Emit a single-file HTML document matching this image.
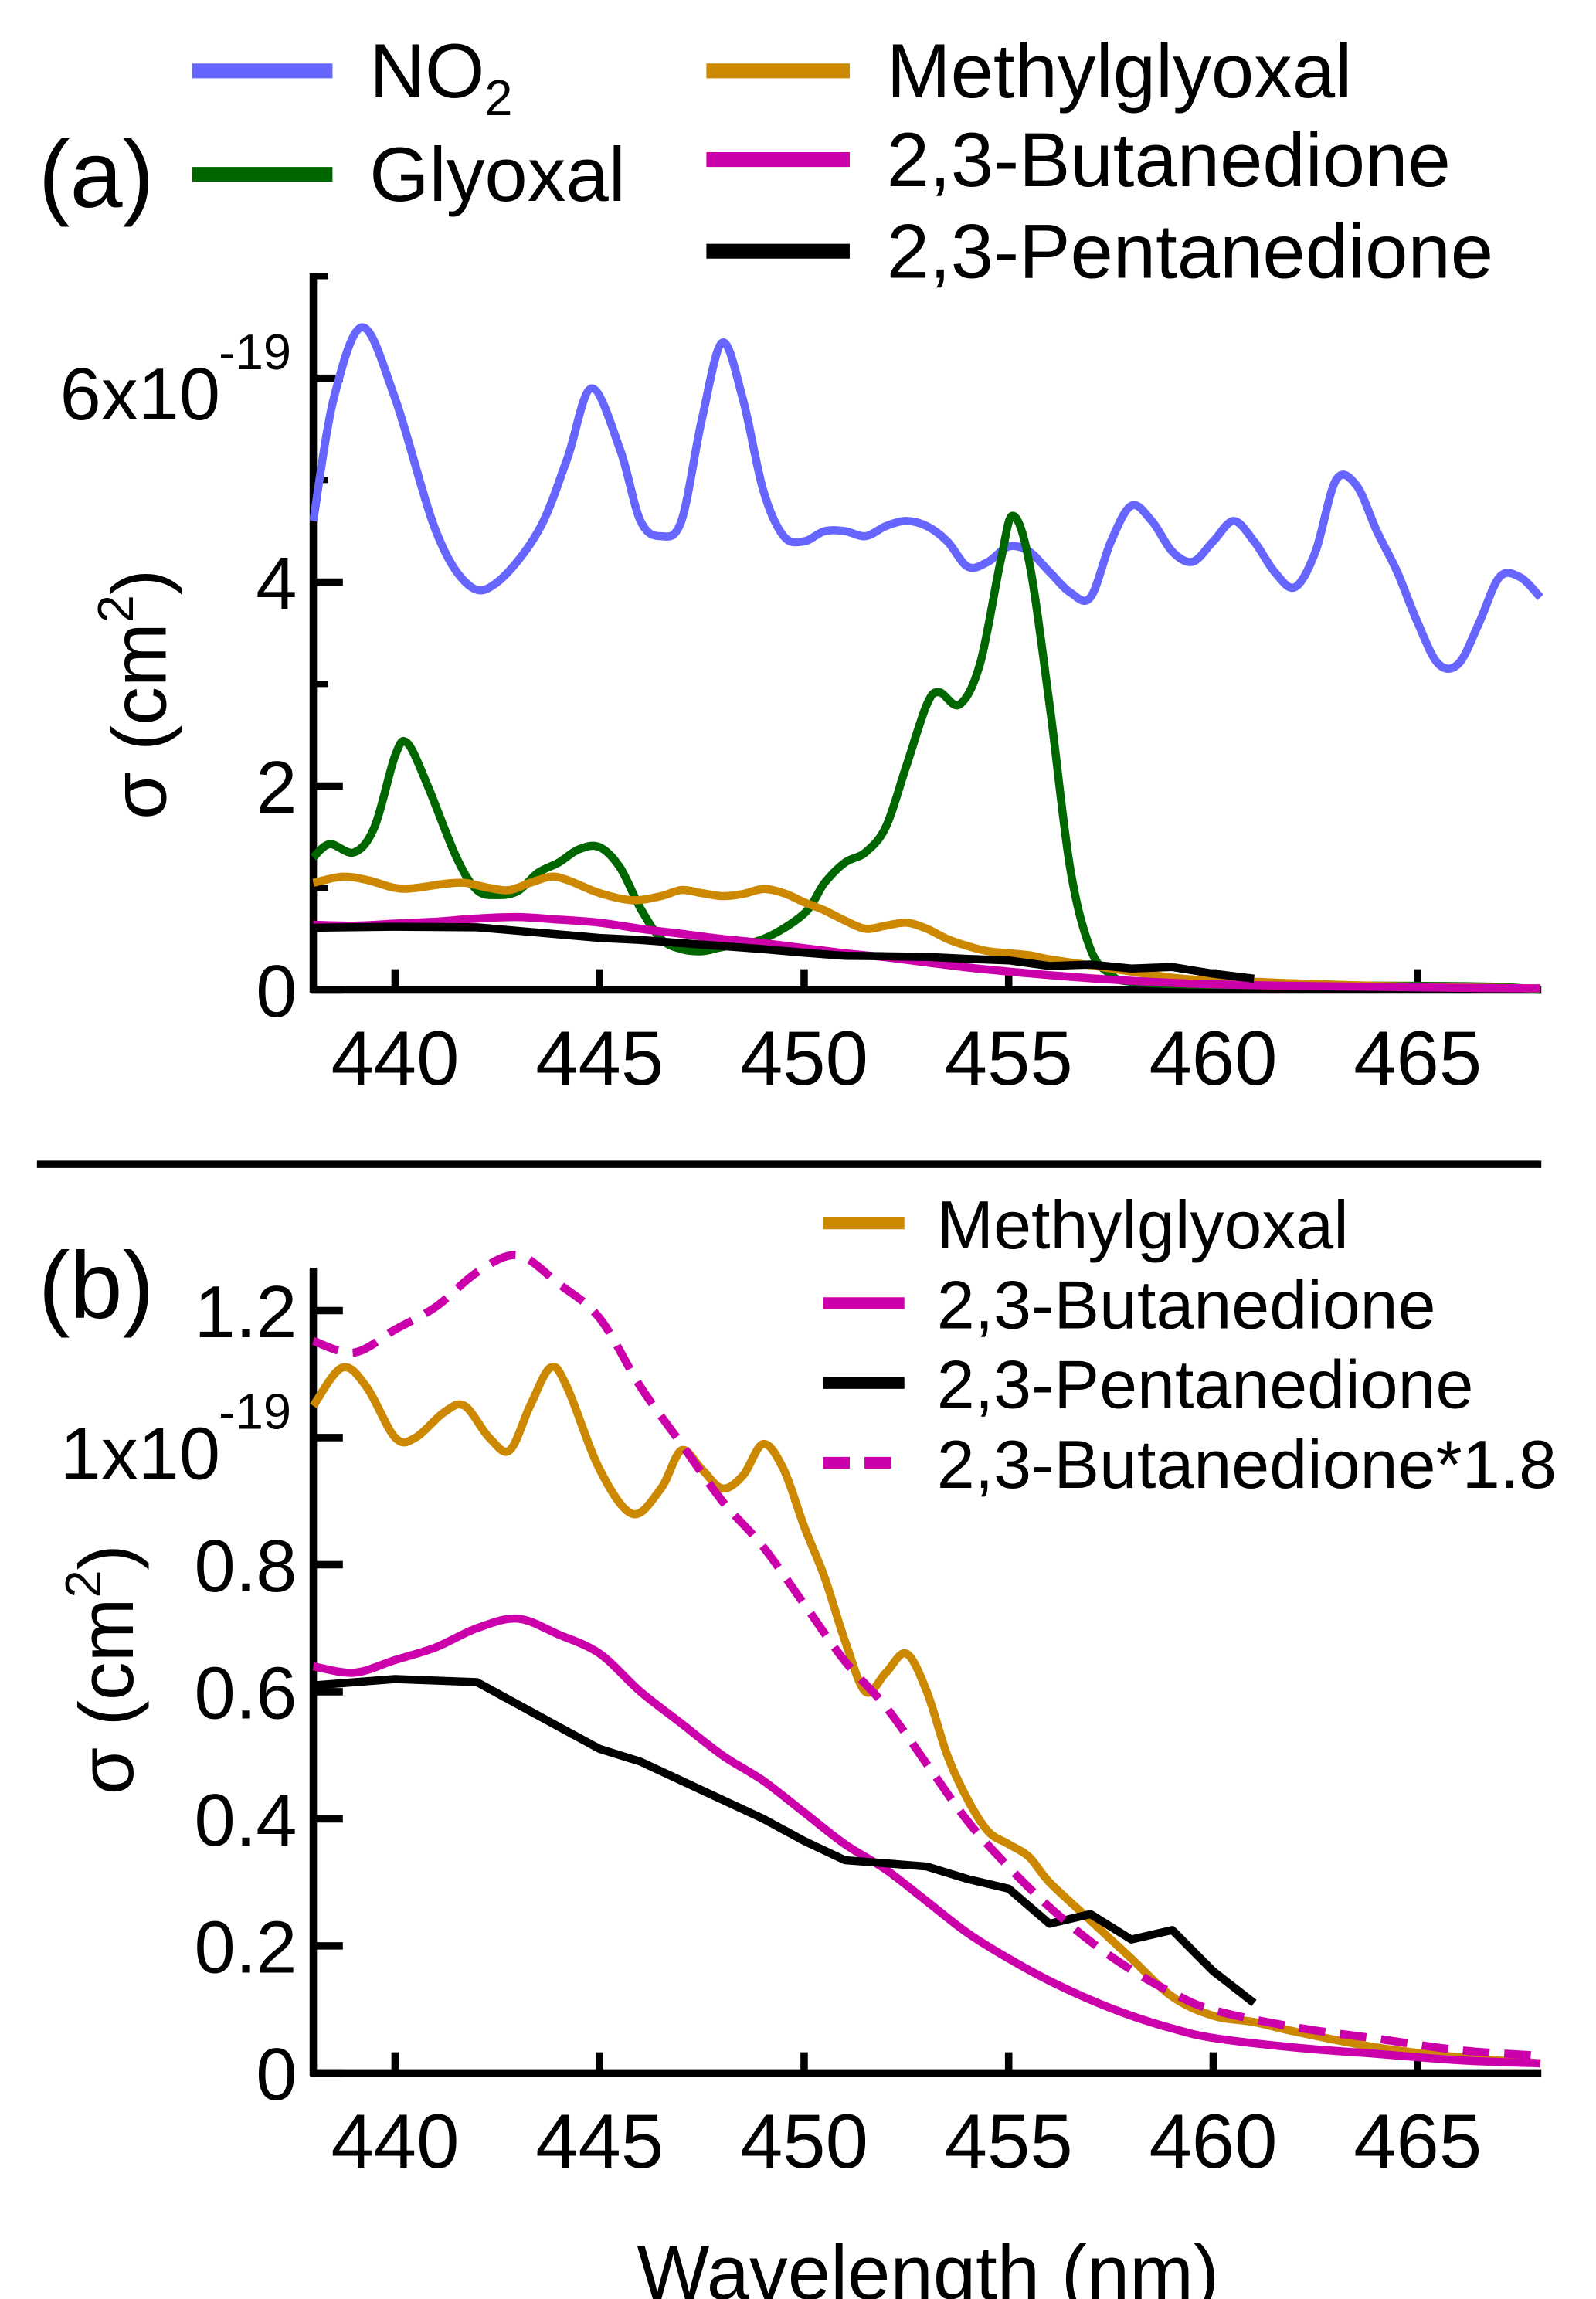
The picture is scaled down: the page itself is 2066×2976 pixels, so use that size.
<!DOCTYPE html>
<html><head><meta charset="utf-8"><style>
html,body{margin:0;padding:0;background:#fff}
svg{display:block}
text{font-family:"Liberation Sans",sans-serif;fill:#000}
</style></head><body>
<svg id="fig" width="2066" height="2976" viewBox="0 0 1080 1556" preserveAspectRatio="none" xmlns="http://www.w3.org/2000/svg">
<g id="pa"></g>
<g id="pb"></g>
<line x1="25" y1="788" x2="1043" y2="788" stroke="#000" stroke-width="5"/>
<text x="26" y="140" font-size="64">(a)</text>
<text x="26" y="892" font-size="64">(b)</text>
<text x="628" y="1556" font-size="52" text-anchor="middle">Wavelength (nm)</text>
<g>
<line x1="130" y1="48" x2="225" y2="48" stroke="#6666ff" stroke-width="10"/><text x="250" y="66" font-size="52">NO<tspan font-size="34" dy="12">2</tspan></text>
<line x1="130" y1="118" x2="225" y2="118" stroke="#006600" stroke-width="10"/><text x="250" y="136" font-size="52">Glyoxal</text>
<line x1="478" y1="48" x2="575" y2="48" stroke="#cc8800" stroke-width="10"/><text x="600" y="66" font-size="52">Methylglyoxal</text>
<line x1="478" y1="108" x2="575" y2="108" stroke="#cc00aa" stroke-width="10"/><text x="600" y="126" font-size="52">2,3-Butanedione</text>
<line x1="478" y1="170" x2="575" y2="170" stroke="#000" stroke-width="10"/><text x="600" y="188" font-size="52">2,3-Pentanedione</text>
</g>
<g>
<line x1="557" y1="828" x2="612" y2="828" stroke="#cc8800" stroke-width="8"/><text x="634" y="845" font-size="46">Methylglyoxal</text>
<line x1="557" y1="882" x2="612" y2="882" stroke="#cc00aa" stroke-width="8"/><text x="634" y="899" font-size="46">2,3-Butanedione</text>
<line x1="557" y1="936" x2="612" y2="936" stroke="#000" stroke-width="8"/><text x="634" y="953" font-size="46">2,3-Pentanedione</text>
<line x1="557" y1="990" x2="612" y2="990" stroke="#cc00aa" stroke-width="8" stroke-dasharray="18,10"/><text x="634" y="1007" font-size="46">2,3-Butanedione*1.8</text>
</g>
</svg>
<script>
const no2W=[438,438.5,439.2,440,441,441.8,442.5,443.5,444.2,444.8,445.5,446,446.5,447,447.5,448,448.5,449,449.5,450,450.5,451,451.5,452,452.5,453,453.5,454,454.5,455,455.5,456,456.5,457,457.5,458,458.5,459,459.5,460,460.5,461,461.5,462,462.5,463,463.5,464,464.5,465,465.5,466,466.5,467,467.5,468];
const no2V=[4.6,5.8,6.5,5.8,4.5,3.97,4.0,4.5,5.2,5.9,5.3,4.6,4.45,4.6,5.6,6.35,5.8,4.9,4.45,4.4,4.5,4.5,4.45,4.55,4.6,4.55,4.4,4.15,4.2,4.35,4.3,4.1,3.9,3.85,4.4,4.75,4.6,4.3,4.2,4.4,4.6,4.4,4.1,3.95,4.3,5.0,4.95,4.5,4.1,3.6,3.2,3.2,3.6,4.05,4.05,3.85];
const glyW=[438,438.4,439,439.5,440,440.3,440.8,441.5,442,442.5,443,443.5,444,444.5,445,445.5,446,446.5,447,447.5,448,449,450,450.5,451,451.5,452,452.5,453,453.3,453.8,454.3,454.8,455.1,455.5,456,456.5,457,457.5,458,460,465,467,468];
const glyV=[1.3,1.43,1.35,1.6,2.3,2.42,2.0,1.3,0.98,0.93,0.97,1.15,1.25,1.38,1.4,1.2,0.8,0.5,0.4,0.38,0.42,0.5,0.75,1.05,1.25,1.35,1.6,2.2,2.8,2.92,2.8,3.2,4.2,4.65,4.2,2.8,1.2,0.4,0.15,0.08,0.05,0.04,0.03,0.0];
const mgW=[438,438.7,439.3,440,440.5,441.2,441.7,442.3,442.8,443.3,443.8,444.2,445,445.8,446.5,447,447.5,448,448.5,449,449.5,450,450.5,451,451.5,452,452.5,453,453.5,454,454.5,455,455.5,456,457,458,459,460,461,462,464,466,468];
const mgV=[1.05,1.11,1.08,1.0,1.0,1.04,1.05,1.0,0.98,1.05,1.11,1.08,0.95,0.88,0.92,0.98,0.95,0.92,0.94,0.99,0.95,0.86,0.78,0.68,0.6,0.63,0.66,0.6,0.5,0.43,0.38,0.36,0.34,0.3,0.24,0.18,0.12,0.09,0.08,0.065,0.04,0.025,0.015];
const buW=[438,439,440,441,442,443,444,445,446,447,448,449,450,451,452,453,454,455,456,457,458,459,460,462,464,466,468];
const buV=[0.64,0.63,0.65,0.67,0.7,0.715,0.69,0.66,0.6,0.55,0.5,0.46,0.41,0.36,0.32,0.27,0.22,0.18,0.145,0.115,0.09,0.07,0.055,0.04,0.03,0.02,0.015];
const buScale=1.8;
const peW=[438,440,442,443,444,445,446,447,448,449,450,451,452,453,454,455,456,457,458,459,460,461];
const peV=[0.61,0.62,0.615,0.58,0.545,0.51,0.49,0.46,0.43,0.4,0.365,0.335,0.33,0.325,0.305,0.29,0.235,0.25,0.21,0.225,0.16,0.11];
const xTicks=[440,445,450,455,460,465];
const aYTicks=[0,2,4,6];
const aYLabels=["0","2","4","6x10"];
const bYTicks=[0,0.2,0.4,0.6,0.8,1.0,1.2];
const bYLabels=["0","0.2","0.4","0.6","0.8","1x10","1.2"];

const NS="http://www.w3.org/2000/svg";
const X=w=>212+(w-438)*27.68;
const yA=v=>670-v*69;
const yB=v=>1403-v*430;
function mk(tag,attrs,parent){const e=document.createElementNS(NS,tag);for(const k in attrs)e.setAttribute(k,attrs[k]);parent.appendChild(e);return e;}
function smoothPath(P,smooth){
  if(!smooth) return P.map((p,i)=>(i?'L':'M')+p[0].toFixed(1)+','+p[1].toFixed(1)).join(' ');
  let d='M'+P[0][0].toFixed(1)+','+P[0][1].toFixed(1);
  for(let i=0;i<P.length-1;i++){
    const p0=P[i-1]||P[i],p1=P[i],p2=P[i+1],p3=P[i+2]||p2;
    const c1=[p1[0]+(p2[0]-p0[0])/6,p1[1]+(p2[1]-p0[1])/6];
    const c2=[p2[0]-(p3[0]-p1[0])/6,p2[1]-(p3[1]-p1[1])/6];
    d+=` C${c1[0].toFixed(1)},${c1[1].toFixed(1)} ${c2[0].toFixed(1)},${c2[1].toFixed(1)} ${p2[0].toFixed(1)},${p2[1].toFixed(1)}`;
  }
  return d;
}
function series(g,W,V,Y,color,name,dash,mult,smooth){
  const P=W.map((w,i)=>[X(w),Y(V[i]*(mult||1))]);
  const p=mk('path',{d:smoothPath(P,smooth!==false),fill:'none',stroke:color,'stroke-width':5.5,'stroke-linejoin':'round'},g);
  if(dash)p.setAttribute('stroke-dasharray',dash);
  
  
}
function axes(g,Y,yTop,yBot,ticks,labels,minor,titleX,titleY,supIdx,supText){
  mk('line',{x1:212,y1:yTop,x2:212,y2:yBot+2,stroke:'#000','stroke-width':5},g);
  mk('line',{x1:210,y1:yBot,x2:1043,y2:yBot,stroke:'#000','stroke-width':5},g);
  xTicks.forEach(t=>{
    mk('line',{x1:X(t),y1:yBot,x2:X(t),y2:yBot-14,stroke:'#000','stroke-width':5},g);
    const tx=mk('text',{x:X(t),y:yBot+64,'font-size':52,'text-anchor':'middle'},g);tx.textContent=t;
    
    
  });
  minor.forEach(v=>mk('line',{x1:212,y1:Y(v),x2:222,y2:Y(v),stroke:'#000','stroke-width':4},g));
  ticks.forEach((t,i)=>{
    mk('line',{x1:212,y1:Y(t),x2:232,y2:Y(t),stroke:'#000','stroke-width':5},g);
    const isSup=i===supIdx;
    const tx=mk('text',{x:isSup?149:201,y:isSup?Y(t)+28:Y(t)+18,'font-size':50,'text-anchor':'end'},g);tx.textContent=labels[i];
    
    
    if(isSup){const s=mk('text',{x:148,y:Y(t)-6,'font-size':34},g);s.textContent=supText;}
  });
  const tt=mk('text',{transform:`translate(${titleX},${titleY}) rotate(-90)`,'font-size':52,'text-anchor':'middle'},g);
  tt.innerHTML='σ (cm<tspan font-size="34" dy="-22">2</tspan><tspan dy="22">)</tspan>';
  
  
}
const ga=document.getElementById('pa'),gb=document.getElementById('pb');
axes(ga,yA,185,670,aYTicks,aYLabels,[1,3,5,7],112,470,3,'-19');
series(ga,no2W,no2V,yA,'#6666ff','no2-line');
series(ga,glyW,glyV,yA,'#006600','glyoxal-line');
series(ga,mgW,mgV,yA,'#cc8800','methylglyoxal-line-a');
series(ga,buW,buV,yA,'#cc00aa','butanedione-line-a');
series(ga,peW,peV,yA,'#000','pentanedione-line-a',null,1,false);
axes(gb,yB,858,1403,bYTicks,bYLabels,[],90,1130,5,'-19');
series(gb,mgW,mgV,yB,'#cc8800','methylglyoxal-line-b');
series(gb,buW,buV,yB,'#cc00aa','butanedione-line-b');
series(gb,peW,peV,yB,'#000','pentanedione-line-b',null,1,false);
series(gb,buW,buV,yB,'#cc00aa','butanedione-scaled-line','18,10',buScale);
</script>
</body></html>
